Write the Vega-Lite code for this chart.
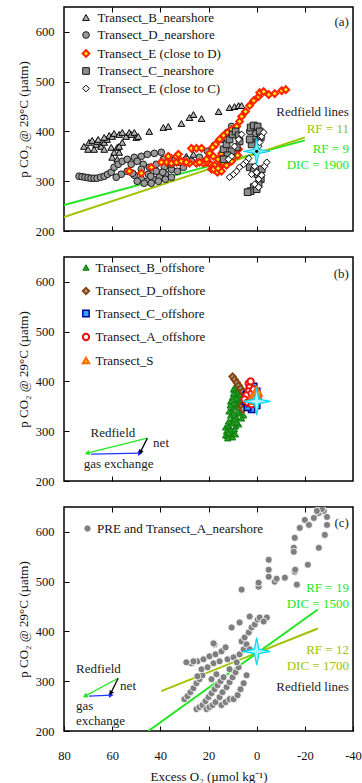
{
"$schema": "https://vega.github.io/schema/vega-lite/v6.json",
"background": "white",
"padding": {"left": 16, "top": 5, "right": 0, "bottom": 0},
"spacing": 26,
"bounds": "flush",
"config": {
  "font": "Liberation Serif",
  "view": {"stroke": "#000000", "strokeWidth": 1.5},
  "axis": {"domain": false, "grid": false, "ticks": true, "tickColor": "#000000", "tickSize": -5, "tickWidth": 1, "labelFont": "Liberation Serif", "labelFontSize": 12.5, "labelColor": "#111111", "labelPadding": 15, "labelFlush": false, "labelExpr": "replace(datum.label, '−', '-')", "titleFont": "Liberation Serif", "titleFontSize": 13, "titleFontWeight": "normal", "titleColor": "#111111"},
  "legend": {"labelFont": "Liberation Serif", "labelFontSize": 13, "labelColor": "#111111", "labelLimit": 400},
  "text": {"font": "Liberation Serif", "fontSize": 13}
},
"resolve": {
  "scale": {"x": "independent", "y": "independent", "color": "independent", "fill": "independent", "stroke": "independent", "shape": "independent", "strokeWidth": "independent"},
  "legend": {"color": "independent", "fill": "independent", "stroke": "independent", "shape": "independent", "strokeWidth": "independent"},
  "axis": {"x": "independent", "y": "independent"}
},
"datasets": {
  "star": [{"o2": 0, "pco2": 360}],
  "lines_a": [
    {"o2": 80, "pco2": 252, "kind": "RF9"}, {"o2": -20, "pco2": 382, "kind": "RF9"},
    {"o2": 80, "pco2": 228, "kind": "RF11"}, {"o2": -20, "pco2": 388, "kind": "RF11"}
  ],
  "notes_a": [
    {"o2": -38.3, "pco2": 440, "text": "Redfield lines", "kind": "none"},
    {"o2": -38.3, "pco2": 404, "text": "RF = 11", "kind": "RF11"},
    {"o2": -38.3, "pco2": 364, "text": "RF = 9", "kind": "RF9"},
    {"o2": -38.3, "pco2": 332, "text": "DIC = 1900", "kind": "RF9"},
    {"o2": -38.3, "pco2": 620, "text": "(a)", "kind": "none"}
  ],
  "a": [
    {"o2": 71.7, "pco2": 370, "series": "Transect_B_nearshore"}, {"o2": 70, "pco2": 364, "series": "Transect_B_nearshore"},
    {"o2": 69.6, "pco2": 378, "series": "Transect_B_nearshore"}, {"o2": 68.3, "pco2": 382, "series": "Transect_B_nearshore"},
    {"o2": 66.7, "pco2": 374, "series": "Transect_B_nearshore"}, {"o2": 66.25, "pco2": 380, "series": "Transect_B_nearshore"},
    {"o2": 64.6, "pco2": 370, "series": "Transect_B_nearshore"}, {"o2": 63.3, "pco2": 378, "series": "Transect_B_nearshore"},
    {"o2": 62.1, "pco2": 384, "series": "Transect_B_nearshore"}, {"o2": 61.25, "pco2": 392, "series": "Transect_B_nearshore"},
    {"o2": 60, "pco2": 390, "series": "Transect_B_nearshore"}, {"o2": 59.2, "pco2": 396, "series": "Transect_B_nearshore"},
    {"o2": 57.1, "pco2": 394, "series": "Transect_B_nearshore"}, {"o2": 55.8, "pco2": 398, "series": "Transect_B_nearshore"},
    {"o2": 54.2, "pco2": 390, "series": "Transect_B_nearshore"}, {"o2": 52.9, "pco2": 398, "series": "Transect_B_nearshore"},
    {"o2": 52.1, "pco2": 394, "series": "Transect_B_nearshore"}, {"o2": 50, "pco2": 388, "series": "Transect_B_nearshore"},
    {"o2": 50.8, "pco2": 398, "series": "Transect_B_nearshore"}, {"o2": 49.2, "pco2": 390, "series": "Transect_B_nearshore"},
    {"o2": 67.5, "pco2": 364, "series": "Transect_B_nearshore"}, {"o2": 63.3, "pco2": 364, "series": "Transect_B_nearshore"},
    {"o2": 60.4, "pco2": 368, "series": "Transect_B_nearshore"}, {"o2": 57.9, "pco2": 368, "series": "Transect_B_nearshore"},
    {"o2": 59.2, "pco2": 358, "series": "Transect_B_nearshore"}, {"o2": 57.1, "pco2": 358, "series": "Transect_B_nearshore"},
    {"o2": 55.8, "pco2": 378, "series": "Transect_B_nearshore"}, {"o2": 57.1, "pco2": 370, "series": "Transect_B_nearshore"},
    {"o2": 60, "pco2": 348, "series": "Transect_B_nearshore"}, {"o2": 57.9, "pco2": 344, "series": "Transect_B_nearshore"},
    {"o2": 65.8, "pco2": 384, "series": "Transect_B_nearshore"}, {"o2": 63.3, "pco2": 388, "series": "Transect_B_nearshore"},
    {"o2": 44.6, "pco2": 400, "series": "Transect_B_nearshore"}, {"o2": 38.75, "pco2": 408, "series": "Transect_B_nearshore"},
    {"o2": 36.7, "pco2": 410, "series": "Transect_B_nearshore"}, {"o2": 31.25, "pco2": 416, "series": "Transect_B_nearshore"},
    {"o2": 27.9, "pco2": 428, "series": "Transect_B_nearshore"}, {"o2": 26.25, "pco2": 434, "series": "Transect_B_nearshore"},
    {"o2": 22.9, "pco2": 426, "series": "Transect_B_nearshore"}, {"o2": 15.8, "pco2": 440, "series": "Transect_B_nearshore"},
    {"o2": 11.25, "pco2": 448, "series": "Transect_B_nearshore"}, {"o2": 9.2, "pco2": 450, "series": "Transect_B_nearshore"},
    {"o2": 7.5, "pco2": 452, "series": "Transect_B_nearshore"}, {"o2": 6.25, "pco2": 452, "series": "Transect_B_nearshore"},
    {"o2": 29.2, "pco2": 350, "series": "Transect_B_nearshore"}, {"o2": 26.25, "pco2": 354, "series": "Transect_B_nearshore"},

    {"o2": 73.75, "pco2": 310, "series": "Transect_D_nearshore"}, {"o2": 72.5, "pco2": 309, "series": "Transect_D_nearshore"},
    {"o2": 71.25, "pco2": 308, "series": "Transect_D_nearshore"}, {"o2": 70, "pco2": 307, "series": "Transect_D_nearshore"},
    {"o2": 68.75, "pco2": 306, "series": "Transect_D_nearshore"}, {"o2": 67.5, "pco2": 306, "series": "Transect_D_nearshore"},
    {"o2": 66.25, "pco2": 306, "series": "Transect_D_nearshore"}, {"o2": 64.8, "pco2": 308, "series": "Transect_D_nearshore"},
    {"o2": 63.3, "pco2": 310, "series": "Transect_D_nearshore"}, {"o2": 61.9, "pco2": 314, "series": "Transect_D_nearshore"},
    {"o2": 60.4, "pco2": 318, "series": "Transect_D_nearshore"}, {"o2": 59.2, "pco2": 328, "series": "Transect_D_nearshore"},
    {"o2": 57.5, "pco2": 334, "series": "Transect_D_nearshore"}, {"o2": 55.8, "pco2": 340, "series": "Transect_D_nearshore"},
    {"o2": 53.75, "pco2": 344, "series": "Transect_D_nearshore"}, {"o2": 50.8, "pco2": 348, "series": "Transect_D_nearshore"},
    {"o2": 47.9, "pco2": 350, "series": "Transect_D_nearshore"}, {"o2": 45.4, "pco2": 354, "series": "Transect_D_nearshore"},
    {"o2": 42.5, "pco2": 356, "series": "Transect_D_nearshore"}, {"o2": 39.6, "pco2": 358, "series": "Transect_D_nearshore"},
    {"o2": 53.75, "pco2": 320, "series": "Transect_D_nearshore"}, {"o2": 50.8, "pco2": 312, "series": "Transect_D_nearshore"},
    {"o2": 47.9, "pco2": 304, "series": "Transect_D_nearshore"}, {"o2": 45.4, "pco2": 300, "series": "Transect_D_nearshore"},
    {"o2": 42.9, "pco2": 304, "series": "Transect_D_nearshore"}, {"o2": 40.4, "pco2": 308, "series": "Transect_D_nearshore"},
    {"o2": 37.9, "pco2": 314, "series": "Transect_D_nearshore"}, {"o2": 35.4, "pco2": 324, "series": "Transect_D_nearshore"},
    {"o2": 32.9, "pco2": 320, "series": "Transect_D_nearshore"}, {"o2": 30.4, "pco2": 328, "series": "Transect_D_nearshore"},
    {"o2": 27.1, "pco2": 340, "series": "Transect_D_nearshore"}, {"o2": 23.75, "pco2": 348, "series": "Transect_D_nearshore"},
    {"o2": 20.4, "pco2": 360, "series": "Transect_D_nearshore"}, {"o2": 17.5, "pco2": 372, "series": "Transect_D_nearshore"},
    {"o2": 14.6, "pco2": 384, "series": "Transect_D_nearshore"}, {"o2": 12.1, "pco2": 398, "series": "Transect_D_nearshore"},
    {"o2": 10.4, "pco2": 410, "series": "Transect_D_nearshore"}, {"o2": 1.25, "pco2": 410, "series": "Transect_D_nearshore"},
    {"o2": 0.4, "pco2": 396, "series": "Transect_D_nearshore"}, {"o2": 1.25, "pco2": 384, "series": "Transect_D_nearshore"},
    {"o2": 2.9, "pco2": 400, "series": "Transect_D_nearshore"}, {"o2": 52.1, "pco2": 334, "series": "Transect_D_nearshore"},
    {"o2": 49.6, "pco2": 340, "series": "Transect_D_nearshore"}, {"o2": 47.1, "pco2": 334, "series": "Transect_D_nearshore"},
    {"o2": 44.6, "pco2": 328, "series": "Transect_D_nearshore"}, {"o2": 41.7, "pco2": 334, "series": "Transect_D_nearshore"},
    {"o2": 38.75, "pco2": 344, "series": "Transect_D_nearshore"}, {"o2": 36.25, "pco2": 348, "series": "Transect_D_nearshore"},
    {"o2": 33.75, "pco2": 344, "series": "Transect_D_nearshore"}, {"o2": 47.9, "pco2": 324, "series": "Transect_D_nearshore"},
    {"o2": 45, "pco2": 314, "series": "Transect_D_nearshore"}, {"o2": 41.7, "pco2": 320, "series": "Transect_D_nearshore"},
    {"o2": 38.3, "pco2": 328, "series": "Transect_D_nearshore"}, {"o2": 35.4, "pco2": 334, "series": "Transect_D_nearshore"},
    {"o2": 32.1, "pco2": 338, "series": "Transect_D_nearshore"}, {"o2": 29.2, "pco2": 344, "series": "Transect_D_nearshore"},
    {"o2": 49.6, "pco2": 300, "series": "Transect_D_nearshore"}, {"o2": 46.7, "pco2": 296, "series": "Transect_D_nearshore"},
    {"o2": 43.75, "pco2": 296, "series": "Transect_D_nearshore"}, {"o2": 40.8, "pco2": 300, "series": "Transect_D_nearshore"},
    {"o2": 37.9, "pco2": 304, "series": "Transect_D_nearshore"}, {"o2": 35.4, "pco2": 308, "series": "Transect_D_nearshore"},
    {"o2": 56.25, "pco2": 314, "series": "Transect_D_nearshore"}, {"o2": 58.3, "pco2": 308, "series": "Transect_D_nearshore"},
    {"o2": 51.5, "pco2": 316, "series": "Transect_D_nearshore"}, {"o2": 44, "pco2": 310, "series": "Transect_D_nearshore"},
    {"o2": 39, "pco2": 318, "series": "Transect_D_nearshore"},

    {"o2": 52.9, "pco2": 320, "series": "Transect_E (close to D)"}, {"o2": 47.9, "pco2": 316, "series": "Transect_E (close to D)"},
    {"o2": 43.75, "pco2": 328, "series": "Transect_E (close to D)"}, {"o2": 37.5, "pco2": 338, "series": "Transect_E (close to D)"},
    {"o2": 33.3, "pco2": 350, "series": "Transect_E (close to D)"}, {"o2": 39.6, "pco2": 338, "series": "Transect_E (close to D)"},
    {"o2": 36.7, "pco2": 350, "series": "Transect_E (close to D)"}, {"o2": 32.5, "pco2": 354, "series": "Transect_E (close to D)"},
    {"o2": 30, "pco2": 338, "series": "Transect_E (close to D)"}, {"o2": 27.1, "pco2": 366, "series": "Transect_E (close to D)"},
    {"o2": 25, "pco2": 366, "series": "Transect_E (close to D)"}, {"o2": 22.9, "pco2": 366, "series": "Transect_E (close to D)"},
    {"o2": 27.9, "pco2": 336, "series": "Transect_E (close to D)"}, {"o2": 25, "pco2": 336, "series": "Transect_E (close to D)"},
    {"o2": 22.1, "pco2": 336, "series": "Transect_E (close to D)"}, {"o2": 19.6, "pco2": 336, "series": "Transect_E (close to D)"},
    {"o2": 17.5, "pco2": 332, "series": "Transect_E (close to D)"}, {"o2": 18.75, "pco2": 324, "series": "Transect_E (close to D)"},
    {"o2": 16.7, "pco2": 320, "series": "Transect_E (close to D)"}, {"o2": 15.4, "pco2": 328, "series": "Transect_E (close to D)"},
    {"o2": 13.75, "pco2": 336, "series": "Transect_E (close to D)"}, {"o2": 11.7, "pco2": 344, "series": "Transect_E (close to D)"},
    {"o2": 9.6, "pco2": 348, "series": "Transect_E (close to D)"}, {"o2": 7.9, "pco2": 352, "series": "Transect_E (close to D)"},
    {"o2": 7.5, "pco2": 364, "series": "Transect_E (close to D)"}, {"o2": 17.1, "pco2": 374, "series": "Transect_E (close to D)"},
    {"o2": 15.4, "pco2": 384, "series": "Transect_E (close to D)"}, {"o2": 13.75, "pco2": 392, "series": "Transect_E (close to D)"},
    {"o2": 12.1, "pco2": 398, "series": "Transect_E (close to D)"}, {"o2": 10.4, "pco2": 404, "series": "Transect_E (close to D)"},
    {"o2": 8.3, "pco2": 410, "series": "Transect_E (close to D)"}, {"o2": 7.1, "pco2": 420, "series": "Transect_E (close to D)"},
    {"o2": 6.25, "pco2": 430, "series": "Transect_E (close to D)"}, {"o2": 4.6, "pco2": 440, "series": "Transect_E (close to D)"},
    {"o2": 2.9, "pco2": 452, "series": "Transect_E (close to D)"}, {"o2": 1.25, "pco2": 462, "series": "Transect_E (close to D)"},
    {"o2": -0.8, "pco2": 470, "series": "Transect_E (close to D)"}, {"o2": -1.25, "pco2": 478, "series": "Transect_E (close to D)"},
    {"o2": -2.9, "pco2": 480, "series": "Transect_E (close to D)"}, {"o2": -5, "pco2": 474, "series": "Transect_E (close to D)"},
    {"o2": -7.5, "pco2": 476, "series": "Transect_E (close to D)"}, {"o2": -10.4, "pco2": 482, "series": "Transect_E (close to D)"},
    {"o2": -12.1, "pco2": 484, "series": "Transect_E (close to D)"}, {"o2": 35.4, "pco2": 336, "series": "Transect_E (close to D)"},
    {"o2": 33.3, "pco2": 338, "series": "Transect_E (close to D)"}, {"o2": 31.25, "pco2": 340, "series": "Transect_E (close to D)"},
    {"o2": 29.2, "pco2": 338, "series": "Transect_E (close to D)"}, {"o2": 23.75, "pco2": 338, "series": "Transect_E (close to D)"},
    {"o2": 20.8, "pco2": 338, "series": "Transect_E (close to D)"}, {"o2": 17.9, "pco2": 324, "series": "Transect_E (close to D)"},
    {"o2": 16.25, "pco2": 318, "series": "Transect_E (close to D)"}, {"o2": 14.6, "pco2": 320, "series": "Transect_E (close to D)"},
    {"o2": 12.5, "pco2": 332, "series": "Transect_E (close to D)"}, {"o2": 10.4, "pco2": 340, "series": "Transect_E (close to D)"},
    {"o2": 20.8, "pco2": 344, "series": "Transect_E (close to D)"}, {"o2": 19.6, "pco2": 356, "series": "Transect_E (close to D)"},
    {"o2": 18.3, "pco2": 368, "series": "Transect_E (close to D)"}, {"o2": 16, "pco2": 326, "series": "Transect_E (close to D)"},
    {"o2": 18, "pco2": 350, "series": "Transect_E (close to D)"}, {"o2": 16, "pco2": 344, "series": "Transect_E (close to D)"},
    {"o2": 14.6, "pco2": 356, "series": "Transect_E (close to D)"},

    {"o2": 13.75, "pco2": 364, "series": "Transect_C_nearshore"}, {"o2": 12.5, "pco2": 374, "series": "Transect_C_nearshore"},
    {"o2": 11.25, "pco2": 384, "series": "Transect_C_nearshore"}, {"o2": 10, "pco2": 394, "series": "Transect_C_nearshore"},
    {"o2": 8.75, "pco2": 400, "series": "Transect_C_nearshore"}, {"o2": 7.5, "pco2": 392, "series": "Transect_C_nearshore"},
    {"o2": 7.1, "pco2": 380, "series": "Transect_C_nearshore"}, {"o2": 8.3, "pco2": 368, "series": "Transect_C_nearshore"},
    {"o2": 10.4, "pco2": 360, "series": "Transect_C_nearshore"}, {"o2": 12.1, "pco2": 352, "series": "Transect_C_nearshore"},
    {"o2": 13.75, "pco2": 344, "series": "Transect_C_nearshore"}, {"o2": 2.5, "pco2": 408, "series": "Transect_C_nearshore"},
    {"o2": 1.25, "pco2": 412, "series": "Transect_C_nearshore"}, {"o2": -0.4, "pco2": 410, "series": "Transect_C_nearshore"},
    {"o2": -1.25, "pco2": 400, "series": "Transect_C_nearshore"}, {"o2": -1.7, "pco2": 388, "series": "Transect_C_nearshore"},
    {"o2": -0.4, "pco2": 378, "series": "Transect_C_nearshore"}, {"o2": 2.1, "pco2": 374, "series": "Transect_C_nearshore"},
    {"o2": 2.9, "pco2": 384, "series": "Transect_C_nearshore"}, {"o2": 2.9, "pco2": 328, "series": "Transect_C_nearshore"},
    {"o2": 1.25, "pco2": 320, "series": "Transect_C_nearshore"}, {"o2": -0.4, "pco2": 314, "series": "Transect_C_nearshore"},
    {"o2": -1.7, "pco2": 304, "series": "Transect_C_nearshore"}, {"o2": -0.8, "pco2": 294, "series": "Transect_C_nearshore"},
    {"o2": 1.25, "pco2": 288, "series": "Transect_C_nearshore"}, {"o2": 2.5, "pco2": 280, "series": "Transect_C_nearshore"},
    {"o2": 3.75, "pco2": 278, "series": "Transect_C_nearshore"}, {"o2": 0, "pco2": 284, "series": "Transect_C_nearshore"},
    {"o2": -2.1, "pco2": 324, "series": "Transect_C_nearshore"},

    {"o2": 11.25, "pco2": 308, "series": "Transect_E (close to C)"}, {"o2": 9.6, "pco2": 314, "series": "Transect_E (close to C)"},
    {"o2": 8.3, "pco2": 320, "series": "Transect_E (close to C)"}, {"o2": 7.1, "pco2": 328, "series": "Transect_E (close to C)"},
    {"o2": 5.4, "pco2": 334, "series": "Transect_E (close to C)"}, {"o2": 4.2, "pco2": 340, "series": "Transect_E (close to C)"},
    {"o2": 3.3, "pco2": 346, "series": "Transect_E (close to C)"}, {"o2": 0.8, "pco2": 358, "series": "Transect_E (close to C)"},
    {"o2": -0.8, "pco2": 370, "series": "Transect_E (close to C)"}, {"o2": -1.25, "pco2": 378, "series": "Transect_E (close to C)"},
    {"o2": -2.1, "pco2": 390, "series": "Transect_E (close to C)"}, {"o2": -2.9, "pco2": 398, "series": "Transect_E (close to C)"},
    {"o2": 0.8, "pco2": 330, "series": "Transect_E (close to C)"}, {"o2": 0, "pco2": 318, "series": "Transect_E (close to C)"},
    {"o2": -0.8, "pco2": 304, "series": "Transect_E (close to C)"}, {"o2": 0.8, "pco2": 294, "series": "Transect_E (close to C)"},
    {"o2": -0.8, "pco2": 288, "series": "Transect_E (close to C)"}, {"o2": -3.3, "pco2": 330, "series": "Transect_E (close to C)"},
    {"o2": -4.2, "pco2": 338, "series": "Transect_E (close to C)"}, {"o2": 9.2, "pco2": 370, "series": "Transect_E (close to C)"},
    {"o2": 10.4, "pco2": 350, "series": "Transect_E (close to C)"}, {"o2": 7.5, "pco2": 384, "series": "Transect_E (close to C)"},
    {"o2": 6.25, "pco2": 394, "series": "Transect_E (close to C)"}, {"o2": 11.7, "pco2": 344, "series": "Transect_E (close to C)"},
    {"o2": 2.1, "pco2": 314, "series": "Transect_E (close to C)"}, {"o2": -2.1, "pco2": 312, "series": "Transect_E (close to C)"}
  ],
  "b": [
    {"o2": 12.1, "pco2": 290, "series": "Transect_B_offshore"}, {"o2": 10.8, "pco2": 292, "series": "Transect_B_offshore"},
    {"o2": 9.6, "pco2": 300, "series": "Transect_B_offshore"}, {"o2": 12.9, "pco2": 308, "series": "Transect_B_offshore"},
    {"o2": 11.25, "pco2": 308, "series": "Transect_B_offshore"}, {"o2": 8.75, "pco2": 310, "series": "Transect_B_offshore"},
    {"o2": 7.5, "pco2": 314, "series": "Transect_B_offshore"}, {"o2": 10, "pco2": 324, "series": "Transect_B_offshore"},
    {"o2": 8.3, "pco2": 328, "series": "Transect_B_offshore"}, {"o2": 7.1, "pco2": 336, "series": "Transect_B_offshore"},
    {"o2": 10.4, "pco2": 342, "series": "Transect_B_offshore"}, {"o2": 9.2, "pco2": 348, "series": "Transect_B_offshore"},
    {"o2": 7.9, "pco2": 352, "series": "Transect_B_offshore"}, {"o2": 6.7, "pco2": 358, "series": "Transect_B_offshore"},
    {"o2": 10, "pco2": 368, "series": "Transect_B_offshore"}, {"o2": 8.75, "pco2": 374, "series": "Transect_B_offshore"},
    {"o2": 7.5, "pco2": 380, "series": "Transect_B_offshore"}, {"o2": 9.2, "pco2": 388, "series": "Transect_B_offshore"},
    {"o2": 7.9, "pco2": 396, "series": "Transect_B_offshore"}, {"o2": 7.1, "pco2": 392, "series": "Transect_B_offshore"},
    {"o2": 10.8, "pco2": 360, "series": "Transect_B_offshore"}, {"o2": 6.25, "pco2": 344, "series": "Transect_B_offshore"},
    {"o2": 5.4, "pco2": 332, "series": "Transect_B_offshore"}, {"o2": 5.8, "pco2": 370, "series": "Transect_B_offshore"},
    {"o2": 12.5, "pco2": 300, "series": "Transect_B_offshore"}, {"o2": 11.7, "pco2": 312, "series": "Transect_B_offshore"},
    {"o2": 10.4, "pco2": 316, "series": "Transect_B_offshore"}, {"o2": 9.2, "pco2": 324, "series": "Transect_B_offshore"},
    {"o2": 7.9, "pco2": 340, "series": "Transect_B_offshore"}, {"o2": 8.75, "pco2": 356, "series": "Transect_B_offshore"},
    {"o2": 7.5, "pco2": 364, "series": "Transect_B_offshore"}, {"o2": 8.3, "pco2": 380, "series": "Transect_B_offshore"},
    {"o2": 9.6, "pco2": 384, "series": "Transect_B_offshore"}, {"o2": 7.5, "pco2": 388, "series": "Transect_B_offshore"},
    {"o2": 6.7, "pco2": 374, "series": "Transect_B_offshore"}, {"o2": 10.8, "pco2": 332, "series": "Transect_B_offshore"},
    {"o2": 9.6, "pco2": 336, "series": "Transect_B_offshore"}, {"o2": 11.25, "pco2": 300, "series": "Transect_B_offshore"},
    {"o2": 10, "pco2": 288, "series": "Transect_B_offshore"}, {"o2": 12.9, "pco2": 292, "series": "Transect_B_offshore"},
    {"o2": 11.7, "pco2": 296, "series": "Transect_B_offshore"}, {"o2": 9.2, "pco2": 304, "series": "Transect_B_offshore"},
    {"o2": 8.3, "pco2": 318, "series": "Transect_B_offshore"}, {"o2": 6.25, "pco2": 326, "series": "Transect_B_offshore"},
    {"o2": 9.6, "pco2": 356, "series": "Transect_B_offshore"}, {"o2": 8.3, "pco2": 366, "series": "Transect_B_offshore"},
    {"o2": 6.25, "pco2": 384, "series": "Transect_B_offshore"}, {"o2": 9.6, "pco2": 376, "series": "Transect_B_offshore"},
    {"o2": 11, "pco2": 352, "series": "Transect_B_offshore"}, {"o2": 8, "pco2": 400, "series": "Transect_B_offshore"},
    {"o2": 11.7, "pco2": 320, "series": "Transect_B_offshore"}, {"o2": 12, "pco2": 286, "series": "Transect_B_offshore"},
    {"o2": 8.8, "pco2": 294, "series": "Transect_B_offshore"}, {"o2": 11.5, "pco2": 340, "series": "Transect_B_offshore"},

    {"o2": 10, "pco2": 410, "series": "Transect_D_offshore"}, {"o2": 9.2, "pco2": 404, "series": "Transect_D_offshore"},
    {"o2": 8.3, "pco2": 398, "series": "Transect_D_offshore"}, {"o2": 7.5, "pco2": 392, "series": "Transect_D_offshore"},
    {"o2": 6.7, "pco2": 386, "series": "Transect_D_offshore"}, {"o2": 5.8, "pco2": 380, "series": "Transect_D_offshore"},
    {"o2": 5, "pco2": 374, "series": "Transect_D_offshore"}, {"o2": 5, "pco2": 364, "series": "Transect_D_offshore"},
    {"o2": 5.4, "pco2": 356, "series": "Transect_D_offshore"}, {"o2": 6.25, "pco2": 350, "series": "Transect_D_offshore"},
    {"o2": 5.8, "pco2": 344, "series": "Transect_D_offshore"},

    {"o2": 4.2, "pco2": 374, "series": "Transect_C_offshore"}, {"o2": 2.9, "pco2": 384, "series": "Transect_C_offshore"},
    {"o2": 1.25, "pco2": 390, "series": "Transect_C_offshore"}, {"o2": 0, "pco2": 380, "series": "Transect_C_offshore"},
    {"o2": -0.4, "pco2": 364, "series": "Transect_C_offshore"}, {"o2": 0, "pco2": 352, "series": "Transect_C_offshore"},
    {"o2": 2.1, "pco2": 344, "series": "Transect_C_offshore"}, {"o2": 3.75, "pco2": 348, "series": "Transect_C_offshore"},
    {"o2": 4.6, "pco2": 360, "series": "Transect_C_offshore"}, {"o2": 1.5, "pco2": 370, "series": "Transect_C_offshore"},
    {"o2": 3, "pco2": 356, "series": "Transect_C_offshore"},

    {"o2": 3.3, "pco2": 396, "series": "Transect_A_offshore"}, {"o2": 2.9, "pco2": 388, "series": "Transect_A_offshore"},
    {"o2": 3.3, "pco2": 380, "series": "Transect_A_offshore"}, {"o2": 4.2, "pco2": 372, "series": "Transect_A_offshore"},
    {"o2": 5, "pco2": 364, "series": "Transect_A_offshore"}, {"o2": 3.75, "pco2": 358, "series": "Transect_A_offshore"},
    {"o2": 2.1, "pco2": 354, "series": "Transect_A_offshore"}, {"o2": 1.25, "pco2": 364, "series": "Transect_A_offshore"},
    {"o2": 2.1, "pco2": 376, "series": "Transect_A_offshore"}, {"o2": 1.25, "pco2": 384, "series": "Transect_A_offshore"},
    {"o2": 2.5, "pco2": 400, "series": "Transect_A_offshore"},

    {"o2": 1.7, "pco2": 372, "series": "Transect_S"}, {"o2": 0.8, "pco2": 378, "series": "Transect_S"},
    {"o2": 0, "pco2": 384, "series": "Transect_S"}, {"o2": -0.4, "pco2": 372, "series": "Transect_S"},
    {"o2": 0.4, "pco2": 364, "series": "Transect_S"}, {"o2": 1.25, "pco2": 360, "series": "Transect_S"},
    {"o2": -0.8, "pco2": 378, "series": "Transect_S"}, {"o2": 1, "pco2": 368, "series": "Transect_S"}
  ],
  "arrows_b": [
    {"kind": "Redfield", "o2": 45.4, "pco2": 286, "o2_end": 70.4, "pco2_end": 256},
    {"kind": "gas exchange", "o2": 68.75, "pco2": 254, "o2_end": 48.3, "pco2_end": 256},
    {"kind": "net", "o2": 45.4, "pco2": 286, "o2_end": 48.3, "pco2_end": 258}
  ],
  "notes_b": [
    {"o2": -38.3, "pco2": 616, "text": "(b)", "kind": "none"}
  ],
  "arrowlabels_b": [
    {"o2": 69, "pco2": 296, "text": "Redfield", "kind": "none"},
    {"o2": 43, "pco2": 276, "text": "net", "kind": "none"},
    {"o2": 71.8, "pco2": 234, "text": "gas exchange", "kind": "none"}
  ],
  "lines_c": [
    {"o2": 45, "pco2": 200, "kind": "RF19"}, {"o2": -25.4, "pco2": 444, "kind": "RF19"},
    {"o2": 39.6, "pco2": 280, "kind": "RF12"}, {"o2": -25.4, "pco2": 406, "kind": "RF12"}
  ],
  "notes_c": [
    {"o2": -38.3, "pco2": 488, "text": "RF = 19", "kind": "RF19"},
    {"o2": -38.3, "pco2": 456, "text": "DIC = 1500", "kind": "RF19"},
    {"o2": -38.3, "pco2": 362, "text": "RF = 12", "kind": "RF12"},
    {"o2": -38.3, "pco2": 330, "text": "DIC = 1700", "kind": "RF12"},
    {"o2": -38.3, "pco2": 288, "text": "Redfield lines", "kind": "none"},
    {"o2": -38.3, "pco2": 618, "text": "(c)", "kind": "none"}
  ],
  "arrows_c": [
    {"kind": "Redfield", "o2": 57.5, "pco2": 306, "o2_end": 71.25, "pco2_end": 270},
    {"kind": "gas exchange", "o2": 69.6, "pco2": 270, "o2_end": 60.4, "pco2_end": 272},
    {"kind": "net", "o2": 57.5, "pco2": 306, "o2_end": 60.6, "pco2_end": 276}
  ],
  "arrowlabels_c": [
    {"o2": 75, "pco2": 324, "text": "Redfield", "kind": "none"},
    {"o2": 56.7, "pco2": 290, "text": "net", "kind": "none"},
    {"o2": 75, "pco2": 250, "text": "gas", "kind": "none"},
    {"o2": 75, "pco2": 220, "text": "exchange", "kind": "none"}
  ],
  "c": [
    {"o2": 30, "pco2": 264}, {"o2": 28.75, "pco2": 270}, {"o2": 27.5, "pco2": 278}, {"o2": 26.25, "pco2": 286},
    {"o2": 25, "pco2": 296}, {"o2": 23.75, "pco2": 304}, {"o2": 22.5, "pco2": 312},
    {"o2": 25, "pco2": 244}, {"o2": 23.75, "pco2": 248}, {"o2": 22.5, "pco2": 252}, {"o2": 21.25, "pco2": 260},
    {"o2": 20, "pco2": 268}, {"o2": 18.75, "pco2": 276}, {"o2": 17.5, "pco2": 284}, {"o2": 16.25, "pco2": 292},
    {"o2": 15, "pco2": 300}, {"o2": 13.75, "pco2": 308},
    {"o2": 20.8, "pco2": 244}, {"o2": 19.6, "pco2": 248}, {"o2": 18.3, "pco2": 252}, {"o2": 17.1, "pco2": 258},
    {"o2": 15.4, "pco2": 268}, {"o2": 14.2, "pco2": 278}, {"o2": 12.5, "pco2": 288}, {"o2": 11.25, "pco2": 298},
    {"o2": 10, "pco2": 308}, {"o2": 8.75, "pco2": 318}, {"o2": 7.5, "pco2": 328},
    {"o2": 14.6, "pco2": 252}, {"o2": 12.9, "pco2": 258}, {"o2": 11.25, "pco2": 264}, {"o2": 9.6, "pco2": 264},
    {"o2": 7.9, "pco2": 272}, {"o2": 6.7, "pco2": 284}, {"o2": 5.4, "pco2": 296}, {"o2": 4.2, "pco2": 312},
    {"o2": 27.1, "pco2": 336}, {"o2": 24.6, "pco2": 340}, {"o2": 22.1, "pco2": 344}, {"o2": 19.6, "pco2": 350},
    {"o2": 17.1, "pco2": 354}, {"o2": 14.6, "pco2": 360}, {"o2": 12.9, "pco2": 368}, {"o2": 22.9, "pco2": 324},
    {"o2": 20.4, "pco2": 328}, {"o2": 17.9, "pco2": 336}, {"o2": 15.4, "pco2": 340}, {"o2": 12.1, "pco2": 344},
    {"o2": 9.6, "pco2": 348}, {"o2": 7.1, "pco2": 354}, {"o2": 5.4, "pco2": 364}, {"o2": 8.3, "pco2": 338},
    {"o2": 11.25, "pco2": 324}, {"o2": 16.7, "pco2": 314}, {"o2": 18.75, "pco2": 304},
    {"o2": 17.5, "pco2": 374}, {"o2": 10.4, "pco2": 408}, {"o2": 7.1, "pco2": 418}, {"o2": 6.25, "pco2": 380},
    {"o2": 5, "pco2": 388}, {"o2": 3.3, "pco2": 398}, {"o2": 2.1, "pco2": 408}, {"o2": 0.8, "pco2": 414},
    {"o2": 2.9, "pco2": 430}, {"o2": -0.4, "pco2": 424}, {"o2": -1.25, "pco2": 428}, {"o2": -4.2, "pco2": 428},
    {"o2": -2.9, "pco2": 420}, {"o2": 4.2, "pco2": 374}, {"o2": 2.9, "pco2": 364},
    {"o2": 17.9, "pco2": 376}, {"o2": 29.2, "pco2": 338}, {"o2": 26.25, "pco2": 340}, {"o2": 24.6, "pco2": 310},
    {"o2": 6.25, "pco2": 484}, {"o2": -0.8, "pco2": 490}, {"o2": -0.8, "pco2": 498}, {"o2": -5, "pco2": 510},
    {"o2": -5, "pco2": 524}, {"o2": -5, "pco2": 544}, {"o2": -7.5, "pco2": 500}, {"o2": -8.3, "pco2": 506},
    {"o2": -11.7, "pco2": 508}, {"o2": -15.8, "pco2": 520}, {"o2": -16.7, "pco2": 494}, {"o2": -21.25, "pco2": 534},
    {"o2": -15.4, "pco2": 568}, {"o2": -15.8, "pco2": 588}, {"o2": -17.9, "pco2": 608}, {"o2": -20, "pco2": 624},
    {"o2": -21.7, "pco2": 614}, {"o2": -23.75, "pco2": 628}, {"o2": -25.8, "pco2": 638}, {"o2": -27.9, "pco2": 642},
    {"o2": -29.2, "pco2": 630}, {"o2": -29.2, "pco2": 614}, {"o2": -28.3, "pco2": 594}, {"o2": -25.8, "pco2": 568},
    {"o2": -27.1, "pco2": 646}, {"o2": -25, "pco2": 642}, {"o2": -15.4, "pco2": 560}, {"o2": -16, "pco2": 524}
  ]
},
"vconcat": [
  {
    "width": 289, "height": 224,
    "layer": [
      {
        "data": {"name": "lines_a"},
        "mark": {"type": "line", "strokeWidth": 2, "clip": true},
        "encoding": {
          "x": {"field": "o2", "type": "quantitative", "scale": {"domain": [-40, 80], "reverse": true, "nice": false, "zero": false}, "axis": {"orient": "top", "values": [60, 40, 20, 0, -20], "labels": false, "title": null}},
          "y": {"field": "pco2", "type": "quantitative", "scale": {"domain": [200, 650], "nice": false, "zero": false}, "axis": {"values": [200, 300, 400, 500, 600], "title": "p CO₂ @ 29°C (µatm)", "titlePadding": 5}},
          "color": {"field": "kind", "type": "nominal", "scale": {"domain": ["RF9", "RF11", "none"], "range": ["#22e622", "#9cc400", "#222222"]}, "legend": null}
        }
      },
      {
        "data": {"name": "a"},
        "mark": {"type": "point", "filled": true, "size": 45, "opacity": 1, "clip": true},
        "encoding": {
          "x": {"field": "o2", "type": "quantitative", "axis": {"orient": "bottom", "values": [60, 40, 20, 0, -20], "labels": false, "title": null}},
          "y": {"field": "pco2", "type": "quantitative", "axis": {"values": [200, 300, 400, 500, 600], "title": "p CO₂ @ 29°C (µatm)", "titlePadding": 5}},
          "shape": {"field": "series", "type": "nominal", "scale": {"domain": ["Transect_B_nearshore", "Transect_D_nearshore", "Transect_E (close to D)", "Transect_C_nearshore", "Transect_E (close to C)"], "range": ["triangle-up", "circle", "diamond", "square", "diamond"]}, "legend": {"orient": "none", "legendX": 15.5, "legendY": 4, "title": null, "padding": 0, "rowPadding": 3.5, "labelOffset": 5, "symbolSize": 45, "labelFontSize": 13}},
          "fill": {"field": "series", "type": "nominal", "scale": {"domain": ["Transect_B_nearshore", "Transect_D_nearshore", "Transect_E (close to D)", "Transect_C_nearshore", "Transect_E (close to C)"], "range": ["#b4b4b4", "#9a9a9a", "#ffee00", "#8c8c8c", "#ffffff"]}, "legend": {"orient": "none", "legendX": 15.5, "legendY": 4, "title": null, "padding": 0, "rowPadding": 3.5, "labelOffset": 5, "symbolSize": 45, "labelFontSize": 13}},
          "stroke": {"field": "series", "type": "nominal", "scale": {"domain": ["Transect_B_nearshore", "Transect_D_nearshore", "Transect_E (close to D)", "Transect_C_nearshore", "Transect_E (close to C)"], "range": ["#000000", "#1a1a1a", "#ff2200", "#1a1a1a", "#000000"]}, "legend": {"orient": "none", "legendX": 15.5, "legendY": 4, "title": null, "padding": 0, "rowPadding": 3.5, "labelOffset": 5, "symbolSize": 45, "labelFontSize": 13}},
          "strokeWidth": {"field": "series", "type": "nominal", "scale": {"type": "ordinal", "domain": ["Transect_B_nearshore", "Transect_D_nearshore", "Transect_E (close to D)", "Transect_C_nearshore", "Transect_E (close to C)"], "range": [1, 1, 2, 1, 1]}, "legend": {"orient": "none", "legendX": 15.5, "legendY": 4, "title": null, "padding": 0, "rowPadding": 3.5, "labelOffset": 5, "symbolSize": 45, "labelFontSize": 13}}
        }
      },
      {
        "data": {"name": "star"},
        "mark": {"type": "point", "shape": "M0,-1L0.16,-0.16L1,0L0.16,0.16L0,1L-0.16,0.16L-1,0L-0.16,-0.16Z", "size": 700, "filled": true, "fill": "#7af0ff", "stroke": "#00c8f0", "strokeWidth": 1, "opacity": 1},
        "encoding": {"x": {"field": "o2", "type": "quantitative", "axis": null}, "y": {"field": "pco2", "type": "quantitative"}}
      },
      {
        "data": {"name": "star"},
        "mark": {"type": "point", "shape": "circle", "size": 10, "filled": true, "color": "#000000", "opacity": 1},
        "encoding": {"x": {"field": "o2", "type": "quantitative", "axis": null}, "y": {"field": "pco2", "type": "quantitative"}}
      },
      {
        "data": {"name": "notes_a"},
        "mark": {"type": "text", "align": "right", "baseline": "middle", "font": "Liberation Serif", "fontSize": 13},
        "encoding": {
          "x": {"field": "o2", "type": "quantitative", "axis": null},
          "y": {"field": "pco2", "type": "quantitative"},
          "text": {"field": "text"},
          "color": {"field": "kind", "type": "nominal", "scale": {"domain": ["RF9", "RF11", "none"], "range": ["#22e622", "#9cc400", "#222222"]}, "legend": null}
        }
      }
    ]
  },
  {
    "width": 289, "height": 224,
    "layer": [
      {
        "data": {"name": "b"},
        "mark": {"type": "point", "filled": true, "size": 40, "opacity": 1, "clip": true},
        "encoding": {
          "x": {"field": "o2", "type": "quantitative", "scale": {"domain": [-40, 80], "reverse": true, "nice": false, "zero": false}, "axis": {"orient": "bottom", "values": [60, 40, 20, 0, -20], "labels": false, "title": null}},
          "y": {"field": "pco2", "type": "quantitative", "scale": {"domain": [200, 650], "nice": false, "zero": false}, "axis": {"values": [200, 300, 400, 500, 600], "title": "p CO₂ @ 29°C (µatm)", "titlePadding": 5}},
          "shape": {"field": "series", "type": "nominal", "scale": {"domain": ["Transect_B_offshore", "Transect_D_offshore", "Transect_C_offshore", "Transect_A_offshore", "Transect_S"], "range": ["triangle-up", "diamond", "square", "circle", "triangle-up"]}, "legend": {"orient": "none", "legendX": 15.5, "legendY": 4, "title": null, "padding": 0, "rowPadding": 8.5, "labelOffset": 3, "symbolSize": 40, "labelFontSize": 13}},
          "fill": {"field": "series", "type": "nominal", "scale": {"domain": ["Transect_B_offshore", "Transect_D_offshore", "Transect_C_offshore", "Transect_A_offshore", "Transect_S"], "range": ["#22a022", "#a0a0a0", "#2aa8ff", "#ffffff", "#ffd21a"]}, "legend": {"orient": "none", "legendX": 15.5, "legendY": 4, "title": null, "padding": 0, "rowPadding": 8.5, "labelOffset": 3, "symbolSize": 40, "labelFontSize": 13}},
          "stroke": {"field": "series", "type": "nominal", "scale": {"domain": ["Transect_B_offshore", "Transect_D_offshore", "Transect_C_offshore", "Transect_A_offshore", "Transect_S"], "range": ["#0f7a0f", "#8b4513", "#000099", "#ee1111", "#ff6a00"]}, "legend": {"orient": "none", "legendX": 15.5, "legendY": 4, "title": null, "padding": 0, "rowPadding": 8.5, "labelOffset": 3, "symbolSize": 40, "labelFontSize": 13}},
          "strokeWidth": {"field": "series", "type": "nominal", "scale": {"type": "ordinal", "domain": ["Transect_B_offshore", "Transect_D_offshore", "Transect_C_offshore", "Transect_A_offshore", "Transect_S"], "range": [1, 2, 1.5, 2, 2]}, "legend": {"orient": "none", "legendX": 15.5, "legendY": 4, "title": null, "padding": 0, "rowPadding": 8.5, "labelOffset": 3, "symbolSize": 40, "labelFontSize": 13}}
        }
      },
      {
        "data": {"name": "arrows_b"},
        "mark": {"type": "rule", "strokeWidth": 1.3},
        "encoding": {
          "x": {"field": "o2", "type": "quantitative", "axis": {"orient": "top", "values": [60, 40, 20, 0, -20], "labels": false, "title": null}},
          "y": {"field": "pco2", "type": "quantitative"},
          "x2": {"field": "o2_end"}, "y2": {"field": "pco2_end"},
          "color": {"field": "kind", "type": "nominal", "scale": {"domain": ["Redfield", "gas exchange", "net", "none"], "range": ["#22e622", "#2233ff", "#000000", "#222222"]}, "legend": null}
        }
      },
      {
        "data": {"name": "arrows_b"},
        "transform": [{"filter": "datum.kind === 'Redfield'"}],
        "mark": {"type": "point", "shape": "triangle-left", "angle": -14, "size": 30, "filled": true, "opacity": 1, "color": "#22e622"},
        "encoding": {"x": {"field": "o2_end", "type": "quantitative", "axis": null}, "y": {"field": "pco2_end", "type": "quantitative"}}
      },
      {
        "data": {"name": "arrows_b"},
        "transform": [{"filter": "datum.kind === 'gas exchange'"}],
        "mark": {"type": "point", "shape": "triangle-right", "angle": -1, "size": 30, "filled": true, "opacity": 1, "color": "#2233ff"},
        "encoding": {"x": {"field": "o2_end", "type": "quantitative", "axis": null}, "y": {"field": "pco2_end", "type": "quantitative"}}
      },
      {
        "data": {"name": "arrows_b"},
        "transform": [{"filter": "datum.kind === 'net'"}],
        "mark": {"type": "point", "shape": "triangle-down", "angle": 25, "size": 26, "filled": true, "opacity": 1, "color": "#000000"},
        "encoding": {"x": {"field": "o2_end", "type": "quantitative", "axis": null}, "y": {"field": "pco2_end", "type": "quantitative"}}
      },
      {
        "data": {"name": "star"},
        "mark": {"type": "point", "shape": "M0,-1L0.16,-0.16L1,0L0.16,0.16L0,1L-0.16,0.16L-1,0L-0.16,-0.16Z", "size": 750, "filled": true, "fill": "#aaf6ff", "stroke": "#00d8f8", "strokeWidth": 1.2, "opacity": 1},
        "encoding": {"x": {"field": "o2", "type": "quantitative", "axis": null}, "y": {"field": "pco2", "type": "quantitative"}}
      },
      {
        "data": {"name": "notes_b"},
        "mark": {"type": "text", "align": "right", "baseline": "middle", "font": "Liberation Serif", "fontSize": 13},
        "encoding": {
          "x": {"field": "o2", "type": "quantitative", "axis": null},
          "y": {"field": "pco2", "type": "quantitative"},
          "text": {"field": "text"},
          "color": {"field": "kind", "type": "nominal", "scale": {"domain": ["Redfield", "gas exchange", "net", "none"], "range": ["#22e622", "#2233ff", "#000000", "#222222"]}, "legend": null}
        }
      },
      {
        "data": {"name": "arrowlabels_b"},
        "mark": {"type": "text", "align": "left", "baseline": "middle", "font": "Liberation Serif", "fontSize": 13},
        "encoding": {
          "x": {"field": "o2", "type": "quantitative", "axis": null},
          "y": {"field": "pco2", "type": "quantitative"},
          "text": {"field": "text"},
          "color": {"field": "kind", "type": "nominal", "scale": {"domain": ["Redfield", "gas exchange", "net", "none"], "range": ["#22e622", "#2233ff", "#000000", "#222222"]}, "legend": null}
        }
      }
    ]
  },
  {
    "width": 289, "height": 224,
    "layer": [
      {
        "data": {"name": "lines_c"},
        "mark": {"type": "line", "strokeWidth": 2, "clip": true},
        "encoding": {
          "x": {"field": "o2", "type": "quantitative", "scale": {"domain": [-40, 80], "reverse": true, "nice": false, "zero": false}, "axis": {"orient": "top", "values": [60, 40, 20, 0, -20], "labels": false, "title": null}},
          "y": {"field": "pco2", "type": "quantitative", "scale": {"domain": [200, 650], "nice": false, "zero": false}, "axis": {"values": [200, 300, 400, 500, 600], "title": "p CO₂ @ 29°C (µatm)", "titlePadding": 5}},
          "color": {"field": "kind", "type": "nominal", "scale": {"domain": ["RF19", "RF12", "Redfield", "gas exchange", "net", "none"], "range": ["#22e622", "#9cc400", "#22e622", "#2233ff", "#000000", "#222222"]}, "legend": null}
        }
      },
      {
        "data": {"name": "c"},
        "transform": [{"calculate": "'PRE and Transect_A_nearshore'", "as": "series"}],
        "mark": {"type": "point", "filled": true, "size": 50, "opacity": 1, "clip": true},
        "encoding": {
          "x": {"field": "o2", "type": "quantitative", "axis": {"orient": "bottom", "values": [80, 60, 40, 20, 0, -20, -40], "labelPadding": 23, "labelFlush": false, "title": "Excess O₂ (µmol kg⁻¹)", "titlePadding": 9}},
          "y": {"field": "pco2", "type": "quantitative", "axis": {"values": [200, 300, 400, 500, 600], "title": "p CO₂ @ 29°C (µatm)", "titlePadding": 5}},
          "fill": {"field": "series", "type": "nominal", "scale": {"range": ["#7f7f7f"]}, "legend": {"orient": "none", "legendX": 17, "legendY": 15, "title": null, "padding": 0, "labelOffset": 3, "symbolSize": 50, "labelFontSize": 13, "labelLimit": 400, "symbolType": "circle", "symbolStrokeColor": "#ffffff", "symbolStrokeWidth": 0.8}},
          "stroke": {"value": "#ffffff"},
          "strokeWidth": {"value": 0.8}
        }
      },
      {
        "data": {"name": "arrows_c"},
        "mark": {"type": "rule", "strokeWidth": 1.3},
        "encoding": {
          "x": {"field": "o2", "type": "quantitative", "axis": null},
          "y": {"field": "pco2", "type": "quantitative"},
          "x2": {"field": "o2_end"}, "y2": {"field": "pco2_end"},
          "color": {"field": "kind", "type": "nominal", "scale": {"domain": ["RF19", "RF12", "Redfield", "gas exchange", "net", "none"], "range": ["#22e622", "#9cc400", "#22e622", "#2233ff", "#000000", "#222222"]}, "legend": null}
        }
      },
      {
        "data": {"name": "arrows_c"},
        "transform": [{"filter": "datum.kind === 'Redfield'"}],
        "mark": {"type": "point", "shape": "triangle-left", "angle": -29, "size": 30, "filled": true, "opacity": 1, "color": "#22e622"},
        "encoding": {"x": {"field": "o2_end", "type": "quantitative", "axis": null}, "y": {"field": "pco2_end", "type": "quantitative"}}
      },
      {
        "data": {"name": "arrows_c"},
        "transform": [{"filter": "datum.kind === 'gas exchange'"}],
        "mark": {"type": "point", "shape": "triangle-right", "angle": -2, "size": 30, "filled": true, "opacity": 1, "color": "#2233ff"},
        "encoding": {"x": {"field": "o2_end", "type": "quantitative", "axis": null}, "y": {"field": "pco2_end", "type": "quantitative"}}
      },
      {
        "data": {"name": "arrows_c"},
        "transform": [{"filter": "datum.kind === 'net'"}],
        "mark": {"type": "point", "shape": "triangle-down", "angle": 30, "size": 26, "filled": true, "opacity": 1, "color": "#000000"},
        "encoding": {"x": {"field": "o2_end", "type": "quantitative", "axis": null}, "y": {"field": "pco2_end", "type": "quantitative"}}
      },
      {
        "data": {"name": "star"},
        "mark": {"type": "point", "shape": "M0,-1L0.16,-0.16L1,0L0.16,0.16L0,1L-0.16,0.16L-1,0L-0.16,-0.16Z", "size": 750, "filled": true, "fill": "#aaf6ff", "stroke": "#00d8f8", "strokeWidth": 1.2, "opacity": 1},
        "encoding": {"x": {"field": "o2", "type": "quantitative", "axis": null}, "y": {"field": "pco2", "type": "quantitative"}}
      },
      {
        "data": {"name": "notes_c"},
        "mark": {"type": "text", "align": "right", "baseline": "middle", "font": "Liberation Serif", "fontSize": 13},
        "encoding": {
          "x": {"field": "o2", "type": "quantitative", "axis": null},
          "y": {"field": "pco2", "type": "quantitative"},
          "text": {"field": "text"},
          "color": {"field": "kind", "type": "nominal", "scale": {"domain": ["RF19", "RF12", "Redfield", "gas exchange", "net", "none"], "range": ["#22e622", "#9cc400", "#22e622", "#2233ff", "#000000", "#222222"]}, "legend": null}
        }
      },
      {
        "data": {"name": "arrowlabels_c"},
        "mark": {"type": "text", "align": "left", "baseline": "middle", "font": "Liberation Serif", "fontSize": 13},
        "encoding": {
          "x": {"field": "o2", "type": "quantitative", "axis": null},
          "y": {"field": "pco2", "type": "quantitative"},
          "text": {"field": "text"},
          "color": {"field": "kind", "type": "nominal", "scale": {"domain": ["RF19", "RF12", "Redfield", "gas exchange", "net", "none"], "range": ["#22e622", "#9cc400", "#22e622", "#2233ff", "#000000", "#222222"]}, "legend": null}
        }
      }
    ]
  }
]
}
